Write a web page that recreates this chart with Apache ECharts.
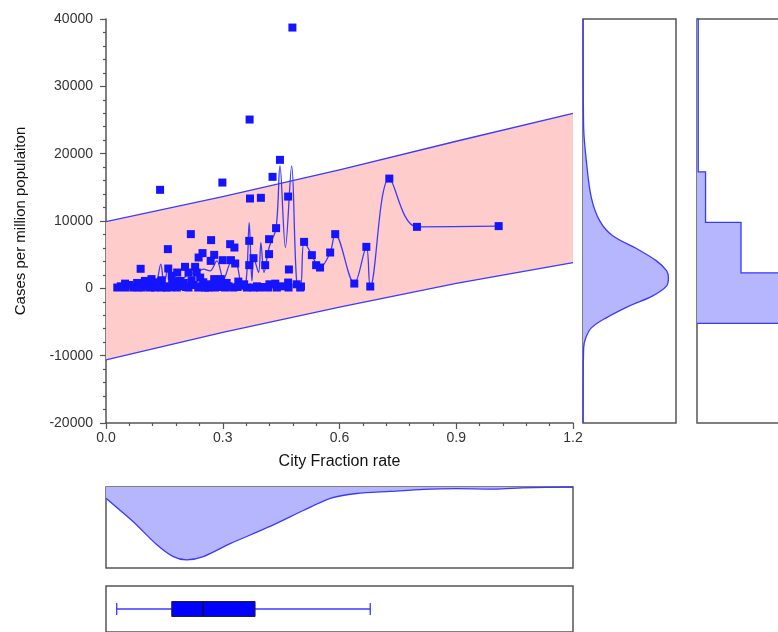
<!DOCTYPE html>
<html><head><meta charset="utf-8">
<script src="https://cdn.jsdelivr.net/npm/echarts@6/dist/echarts.min.js"></script>
<style>html,body{margin:0;padding:0;background:#fff}#c{width:778px;height:632px}</style>
</head><body><div id="c"></div>
<script>
// ---------- data ----------
const xTickLabels = ['0.0','0.3','0.6','0.9','1.2'];
const yTickLabels = ['-20000','-10000','0','10000','20000','30000','40000'];

// scatter points: [City Fraction rate, Cases per million]
const pointsHigh = [
 [0.139,14630],[0.299,15710],[0.447,19080],[0.428,16560],[0.370,13340],[0.398,13440],[0.468,13630],
 [0.369,25070],[0.479,38730],[0.728,16300],
 [0.218,8050],[0.270,7160],[0.159,5820],[0.089,2900],[0.248,5230],[0.238,4580],[0.278,4970],[0.269,4080],
 [0.319,6560],[0.330,6060],[0.300,4180],[0.321,4180],[0.332,3690],[0.368,7050],[0.379,4480],[0.368,3440],
 [0.419,7300],[0.437,8940],[0.419,5080],[0.409,3440],[0.470,2800],[0.509,6900],[0.529,4930],[0.540,3440],
 [0.550,3090],[0.576,5320],[0.589,8050],[0.160,2940],[0.203,3190],[0.229,3190],[0.183,2350],[0.212,2350],
 [0.233,2350],[0.669,6160],[0.799,9130],[1.009,9240]
];
const pointsLow = [
 [0.117,1370],[0.169,1860],[0.242,1600],[0.278,1370],[0.295,1370],[0.468,860],[0.638,710],[0.679,270],[0.501,270],
 [0.029,120],[0.049,120],[0.070,120],[0.092,120],[0.113,120],[0.126,120],[0.143,120],[0.156,120],[0.182,120],
 [0.212,120],[0.237,120],[0.263,120],[0.280,120],[0.306,120],[0.327,120],[0.362,120],[0.379,120],[0.396,120],
 [0.417,120],[0.439,120],[0.469,120],[0.499,120],
 [0.049,700],[0.080,800],[0.100,1100],[0.126,900],[0.143,1200],[0.170,1000],[0.190,1100],[0.200,800],
 [0.220,1200],[0.250,900],[0.260,600],[0.310,800],[0.340,1000],[0.355,600],[0.420,600],[0.435,700],[0.490,600],
 [0.038,300],[0.060,500],[0.082,150],[0.103,400],[0.120,250],[0.135,500],[0.150,300],[0.165,150],[0.175,600],
 [0.195,350],[0.205,200],[0.225,500],[0.245,300],[0.255,100],[0.272,400],[0.290,200],[0.315,300],[0.338,200],
 [0.350,400],[0.388,300],[0.405,200],[0.450,300]
];

// smoothed trace drawn through the scatter
const lineNodes = [
 [0.027,100],[0.070,220],[0.113,370],[0.128,620],[0.141,3590],[0.149,620],[0.160,2940],[0.169,1860],
 [0.190,1110],[0.212,2100],[0.233,2350],[0.250,2850],[0.267,2600],[0.285,4080],[0.302,1360],[0.323,3980],
 [0.336,3590],[0.349,620],[0.360,1110],[0.368,9770],[0.375,1110],[0.380,4480],[0.392,2350],[0.398,6800],
 [0.406,2350],[0.419,6060],[0.437,8940],[0.447,18190],[0.461,6060],[0.477,18190],[0.490,860],[0.500,370],
 [0.509,6900],[0.529,4930],[0.542,3440],[0.550,3090],[0.576,5320],[0.589,8050],[0.638,710],[0.669,6160],
 [0.679,270],[0.728,16300],[0.799,9130],[1.009,9240]
];

// prediction band
const bandX = [0, 0.3, 0.6, 0.9, 1.2];
const bandUpper = [9900, 13605, 17610, 21845, 26000];
const bandLower = [-10620, -6555, -2790, 745, 3830];

// density of y (right panel): [y, density]
const kdeYvals = [40000, 23840, 18940, 13440, 10025, 7800, 5870, 4080, 2600, 1560, 370, -1110, -2600, -4380, -5870, -7350, -8840, -20000];
const kdeYdens = [0, 0.007, 0.036, 0.09, 0.18, 0.32, 0.58, 0.79, 0.90, 0.918, 0.90, 0.75, 0.50, 0.25, 0.09, 0.03, 0.007, 0];

// histogram of y (far right panel)
const histEdges = [-5200, 2300, 9800, 17300, 24800, 32300, 40000];
const histCounts = [76, 36, 7, 1, 1, 1];

// density of x (bottom panel)
const kdeXvals = [0.0, 0.07, 0.13, 0.173, 0.207, 0.25, 0.319, 0.42, 0.507, 0.576, 0.644, 0.73, 0.816, 0.90, 1.004, 1.07, 1.2];
const kdeXdens = [0.14, 0.43, 0.71, 0.86, 0.90, 0.86, 0.70, 0.49, 0.29, 0.14, 0.08, 0.055, 0.03, 0.02, 0.025, 0.01, 0];

// box plot of x: [min whisker, Q1, median, Q3, max whisker]
const boxStats = [0.0275, 0.169, 0.249, 0.383, 0.679];

// ---------- chart ----------
const BLUE = '#1414ff', LINE = '#3a3aff', KFILL = '#b6b6ff', PINK = '#ffcccc', BORDER = '#555';
const FONT = '"Liberation Sans", Arial, sans-serif';

function poly(pts, xi, yi, fill, stroke, z, lw, smooth) {
  return {type:'custom', xAxisIndex:xi, yAxisIndex:yi, z:z, silent:true, clip:false,
    data:[[0,0]], encode:{x:0,y:1},
    renderItem:(p, api)=>{
      const P = pts.map(q=>api.coord(q));
      const xs = P.map(a=>a[0]), ys = P.map(a=>a[1]);
      const shape = {points:P};
      if (smooth) {
        shape.smooth = smooth;
        shape.smoothConstraint = [[Math.min(...xs), Math.min(...ys)], [Math.max(...xs), Math.max(...ys)]];
      }
      return {type: fill ? 'polygon' : 'polyline', shape:shape,
        style:{fill: fill || null, stroke: stroke || null, lineWidth: lw || 1.2}};
    }};
}

const bandUp = bandX.map((x,i)=>[x,bandUpper[i]]);
const bandLo = bandX.map((x,i)=>[x,bandLower[i]]);
const bandPoly = bandUp.concat(bandLo.slice().reverse());

const kdeYpts = kdeYvals.map((y,i)=>[kdeYdens[i], y]);
const kdeXpts = kdeXvals.map((x,i)=>[x, kdeXdens[i]]);

const histPts = [[0, histEdges[histEdges.length-1]]];
for (let i = histCounts.length-1; i >= 0; i--) {
  histPts.push([histCounts[i], histEdges[i+1]]);
  histPts.push([histCounts[i], histEdges[i]]);
}
histPts.push([0, histEdges[0]]);

const panelGrid = {show:true, borderColor:BORDER, borderWidth:1.5, backgroundColor:'transparent', outerBoundsMode:'none'};
const hiddenAxis = (min,max,extra)=>Object.assign({type:'value', min, max, show:false, splitLine:{show:false}}, extra||{});

const option = {
  animation:false,
  backgroundColor:'#fff',
  grid:[
    {left:106, top:19, width:467, height:404, outerBoundsMode:'none'},
    Object.assign({left:583, top:19, width:93, height:404}, panelGrid),
    Object.assign({left:697, top:19, width:110, height:404}, panelGrid),
    Object.assign({left:106, top:487, width:467, height:81}, panelGrid),
    Object.assign({left:106, top:586, width:467, height:46}, panelGrid)
  ],
  xAxis:[
    {type:'value', gridIndex:0, min:0, max:1.2, interval:0.3,
     name:'City Fraction rate', nameLocation:'middle', nameGap:31,
     nameTextStyle:{fontSize:16, color:'#111', fontFamily:FONT},
     axisLine:{show:true, onZero:false, lineStyle:{color:BORDER, width:1.5}},
     axisTick:{show:true, length:6, lineStyle:{color:BORDER, width:1.2}},
     minorTick:{show:true, splitNumber:5, length:3, lineStyle:{color:BORDER, width:1.2}},
     axisLabel:{fontSize:14, color:'#333', fontFamily:FONT, margin:8,
       formatter:(v)=>xTickLabels[Math.round(v/0.3)]},
     splitLine:{show:false}},
    hiddenAxis(0,1,{gridIndex:1}),
    hiddenAxis(0,90,{gridIndex:2}),
    hiddenAxis(0,1.2,{gridIndex:3}),
    hiddenAxis(0,1.2,{gridIndex:4})
  ],
  yAxis:[
    {type:'value', gridIndex:0, min:-20000, max:40000, interval:10000,
     name:'Cases per million populaiton', nameLocation:'middle', nameGap:78,
     nameTextStyle:{fontSize:15, color:'#111', fontFamily:FONT},
     axisLine:{show:true, onZero:false, lineStyle:{color:BORDER, width:1.5}},
     axisTick:{show:true, length:6, lineStyle:{color:BORDER, width:1.2}},
     minorTick:{show:true, splitNumber:5, length:3, lineStyle:{color:BORDER, width:1.2}},
     axisLabel:{fontSize:14, color:'#333', fontFamily:FONT, margin:13,
       formatter:(v)=>yTickLabels[Math.round((v+20000)/10000)]},
     splitLine:{show:false}},
    hiddenAxis(-20000,40000,{gridIndex:1}),
    hiddenAxis(-20000,40000,{gridIndex:2}),
    hiddenAxis(0,1,{gridIndex:3, inverse:true}),
    hiddenAxis(0,1,{gridIndex:4})
  ],
  series:[
    poly(bandPoly, 0, 0, PINK, null, 1),
    poly(bandUp, 0, 0, null, LINE, 2, 1.3),
    poly(bandLo, 0, 0, null, LINE, 2, 1.3),
    {type:'line', xAxisIndex:0, yAxisIndex:0, data:lineNodes, smooth:0.35, showSymbol:false,
     lineStyle:{color:LINE, width:1.3}, z:3, silent:true},
    {type:'scatter', xAxisIndex:0, yAxisIndex:0, data:pointsHigh.concat(pointsLow), symbol:'rect',
     symbolSize:8, itemStyle:{color:BLUE, opacity:1}, z:4, silent:true},
    poly(kdeYpts, 1, 1, KFILL, null, 2, 1.3, 0.35),
    poly(kdeYpts, 1, 1, null, LINE, 3, 1.3, 0.35),
    poly(histPts, 2, 2, KFILL, null, 2),
    poly(histPts, 2, 2, null, LINE, 3, 1.3),
    poly([[0,0]].concat(kdeXpts).concat([[1.2,0]]), 3, 3, KFILL, null, 2, 1.3, 0.25),
    poly(kdeXpts, 3, 3, null, LINE, 3, 1.3, 0.25),
    {type:'custom', xAxisIndex:4, yAxisIndex:4, silent:true, clip:false, data:[[0,0]], encode:{x:0,y:1}, z:3,
     renderItem:(p, api)=>{
       const c = boxStats.map(v=>api.coord([v,0.5]));
       const y = c[0][1], hb = 7.5, hc = 6;
       return {type:'group', children:[
         {type:'line', shape:{x1:c[0][0], y1:y, x2:c[1][0], y2:y}, style:{stroke:LINE, lineWidth:1.3}},
         {type:'line', shape:{x1:c[3][0], y1:y, x2:c[4][0], y2:y}, style:{stroke:LINE, lineWidth:1.3}},
         {type:'line', shape:{x1:c[0][0], y1:y-hc, x2:c[0][0], y2:y+hc}, style:{stroke:LINE, lineWidth:1.3}},
         {type:'line', shape:{x1:c[4][0], y1:y-hc, x2:c[4][0], y2:y+hc}, style:{stroke:LINE, lineWidth:1.3}},
         {type:'rect', shape:{x:c[1][0], y:y-hb, width:c[3][0]-c[1][0], height:2*hb}, style:{fill:'#0000ff', stroke:'#222', lineWidth:1}},
         {type:'line', shape:{x1:c[2][0], y1:y-hb, x2:c[2][0], y2:y+hb}, style:{stroke:'#111', lineWidth:1.2}}
       ]};
     }}
  ]
};
const chart = echarts.init(document.getElementById('c'), null, {renderer:'canvas'});
chart.setOption(option);
</script></body></html>
